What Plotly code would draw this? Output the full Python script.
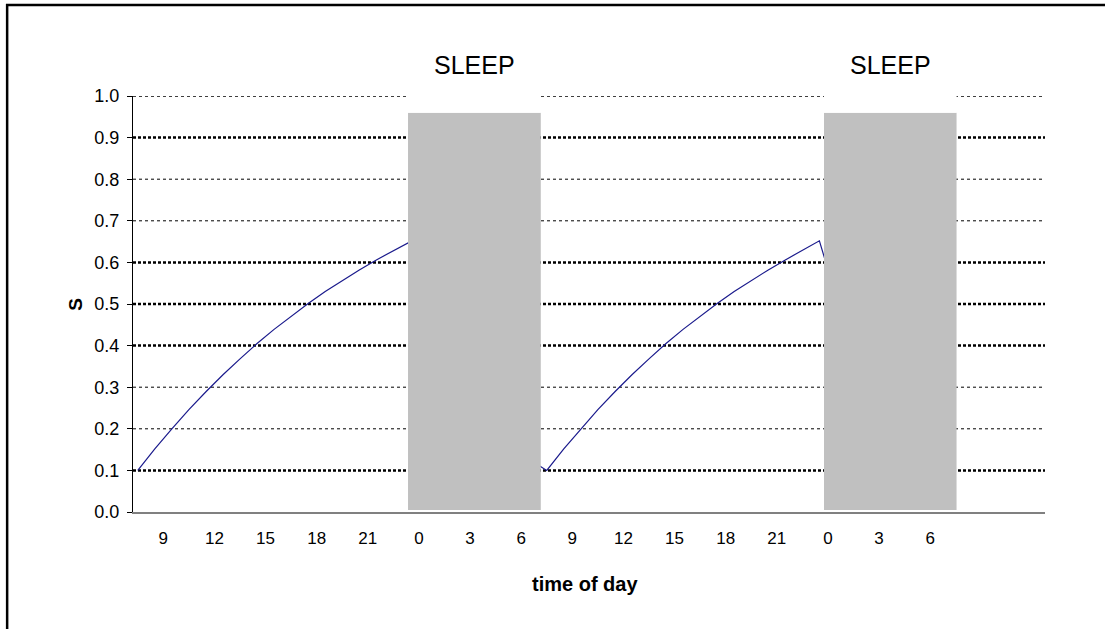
import plotly.graph_objects as go

# ---- data ----
time_h = [7.5, 8.5, 9.5, 10.5, 11.5, 12.5, 13.5, 14.5, 15.5, 16.5, 17.5, 18.5, 19.5,
          20.5, 21.5, 22.5, 23.5, 24.5, 25.5, 26.5, 27.5, 28.5, 29.5, 30.5, 31.5,
          32.5, 33.5, 34.5, 35.5, 36.5, 37.5, 38.5, 39.5, 40.5, 41.5, 42.5, 43.5,
          44.5, 45.5, 46.5, 47.5, 48.5, 49.5, 50.5, 51.5, 52.5, 53.5, 54.5, 55.5]
s_values = [0.100, 0.152, 0.200, 0.246, 0.289, 0.330, 0.368, 0.405, 0.439, 0.471,
            0.501, 0.530, 0.557, 0.582, 0.606, 0.629, 0.650,
            0.514, 0.406, 0.321, 0.255, 0.201, 0.159, 0.126,
            0.100, 0.152, 0.200, 0.246, 0.289, 0.330, 0.368, 0.405, 0.439, 0.471,
            0.501, 0.530, 0.557, 0.582, 0.606, 0.629, 0.652,
            0.514, 0.406, 0.321, 0.255, 0.201, 0.159, 0.126, 0.100]

sleep_start = [23.36, 47.77]
sleep_end = [31.15, 55.55]
sleep_top = 0.96
sleep_bottom = 0.005
sleep_label = "SLEEP"

tick_vals = [9, 12, 15, 18, 21, 24, 27, 30, 33, 36, 39, 42, 45, 48, 51, 54]
tick_text = ["9", "12", "15", "18", "21", "0", "3", "6",
             "9", "12", "15", "18", "21", "0", "3", "6"]
y_ticks = [0.0, 0.1, 0.2, 0.3, 0.4, 0.5, 0.6, 0.7, 0.8, 0.9, 1.0]
x_title = "time of day"
y_title = "S"

FONT = "Arial, 'Liberation Sans', sans-serif"

fig = go.Figure()

fig.add_trace(go.Scatter(x=time_h, y=s_values, mode="lines",
                         line=dict(color="#1a1a8c", width=1.2),
                         hoverinfo="skip", showlegend=False))

for s, e in zip(sleep_start, sleep_end):
    fig.add_trace(go.Scatter(x=[s, e, e, s, s],
                             y=[sleep_bottom, sleep_bottom, sleep_top, sleep_top, sleep_bottom],
                             mode="lines", fill="toself", fillcolor="#C0C0C0",
                             line=dict(width=0, color="#C0C0C0"),
                             hoverinfo="skip", showlegend=False))
    fig.add_trace(go.Scatter(x=[s, e, e, s, s],
                             y=[sleep_top, sleep_top, 1.02, 1.02, sleep_top],
                             mode="lines", fill="toself", fillcolor="white",
                             line=dict(width=0, color="white"),
                             hoverinfo="skip", showlegend=False, cliponaxis=False))
    fig.add_annotation(x=(s + e) / 2, y=1.075, xref="x", yref="paper", text=sleep_label,
                       xanchor="center", yanchor="middle",
                       showarrow=False, font=dict(family=FONT, size=25, color="black"))

# gridlines (alternating weights as in the reference)
grid_w = {0.1: 2.5, 0.2: 1, 0.3: 1, 0.4: 2.5, 0.5: 2.5, 0.6: 2.5,
          0.7: 1, 0.8: 1, 0.9: 2.5, 1.0: 1.6}
for v in y_ticks[1:]:
    w = grid_w[round(v, 1)]
    fig.add_shape(type="line", xref="paper", yref="y", x0=0, x1=1, y0=v, y1=v,
                  layer="below",
                  line=dict(color="black", width=w, dash="3px,3px" if w < 2 else "3px,2px"))

# frame
fig.add_shape(type="rect", xref="paper", yref="paper", x0=-0.138, x1=1.2, y0=-0.4, y1=1.219,
              line=dict(color="black", width=2.5), layer="above")

fig.add_annotation(x=-0.064, y=0.5, xref="paper", yref="paper", text="<b>" + y_title + "</b>",
                   xanchor="center", yanchor="middle",
                   textangle=-90, showarrow=False, font=dict(family=FONT, size=19, color="black"))
fig.add_annotation(x=0.496, y=-0.172, xref="paper", yref="paper", text="<b>" + x_title + "</b>",
                   xanchor="center", yanchor="middle",
                   showarrow=False, font=dict(family=FONT, size=20, color="black"))

fig.update_layout(
    width=1105, height=629,
    margin=dict(l=133, r=60, t=96, b=117),
    paper_bgcolor="white", plot_bgcolor="white",
    font=dict(family=FONT, size=17, color="black"),
    showlegend=False,
    xaxis=dict(range=[7.22, 60.74], tickmode="array", tickvals=tick_vals, ticktext=tick_text,
               showgrid=False, zeroline=False, showline=True, linecolor="#808080", linewidth=2,
               ticks="", ticklabelstandoff=10, tickfont=dict(size=17), fixedrange=True),
    yaxis=dict(range=[0, 1.0], tickmode="array", tickvals=y_ticks,
               ticktext=[f"{v:.1f}" for v in y_ticks],
               showgrid=False, zeroline=False, showline=True, linecolor="black", linewidth=1,
               ticks="outside", ticklen=5, tickcolor="black", tickfont=dict(size=18),
               ticklabelstandoff=4, fixedrange=True),
)

fig.write_html("out.html", config={"displayModeBar": False},
               post_script="document.body.style.margin='0';")
